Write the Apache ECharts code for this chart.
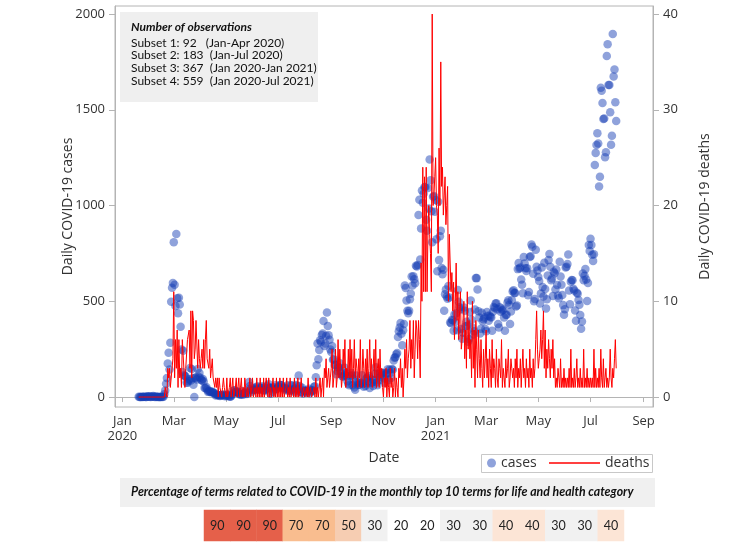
<!DOCTYPE html>
<html>
<head>
<meta charset="utf-8">
<script src="https://cdn.jsdelivr.net/npm/echarts@6/dist/echarts.min.js"></script>
<style>
  html, body { margin: 0; padding: 0; background: #ffffff; }
  #chart { width: 746px; height: 546px; }
</style>
</head>
<body>
<div id="chart"></div>
<script>
// ---------------- DATA ----------------
// Daily COVID-19 cases, 2020 (one sub-array per month; January starts on the 20th)
const cases2020 = [
  [1,0,0,0,1,0,1,1,0,0,3,4],
  [1,3,0,1,3,5,1,0,3,0, 1,0,0,0,0,1,0,1,15,34, 70,100,175,231,144,284,497,571,595],
  [808,586,476,851,516,438,518,483,367,248, 131,242,114,110,107,76,74,84,93,152, 87,147,98,64,0,100,104,91,146,105, 125],
  [101,89,86,94,81,47,47,53,39,27, 30,32,25,27,27,22,22,18,8,13, 9,11,8,6,10,10,10,14,9,4],
  [9,6,13,8,3,2,4,12,18,34, 35,27,26,29,27,19,13,15,13,32, 12,20,23,25,16,19,40,79,58,39, 27],
  [35,38,49,39,39,51,57,38,38,50, 45,56,49,34,37,34,43,59,49,67, 48,17,46,51,28,39,51,62,42,43],
  [51,54,63,63,61,48,44,50,45,35, 44,62,33,39,33,61,60,39,34,26, 45,63,59,41,113,58,25,28,48,18, 36],
  [31,30,23,34,33,43,20,36,28,34, 34,54,56,103,166,279,197,246,297,288, 324,332,397,266,280,320,441,371,323,299, 248],
  [235,267,195,198,168,167,119,136,156,155, 176,136,121,109,106,113,153,126,110,82, 70,61,110,125,114,61,95,50,38,113],
  [77,63,75,64,73,75,114,69,54,72, 58,97,102,84,110,47,73,91,76,58, 89,121,155,77,61,119,88,103,125,114, 127],
  [124,97,75,118,125,145,89,143,126,100, 146,143,191,205,208,223,230,313,343,363, 386,330,271,349,382,583,569,504,450,438],
  [451,511,540,629,583,631,615,594,686,682, 689,950,1030,718,880,1078,1014,1062,1097,1097, 926,869,1092,985,1241,1132,970,808,1046,1050, 967]
];
// Daily COVID-19 cases, 2021 (Jan-Jul)
const cases2021 = [
  [1029,824,657,1020,715,840,869,674,641,665, 451,537,562,524,513,580,520,389,386,404, 401,346,431,392,437,349,559,497,469,458, 355],
  [305,336,467,451,370,393,372,289,303,444, 504,403,362,326,344,457,621,621,561,448, 416,332,357,440,396,406,415,355],
  [344,444,424,398,424,418,416,346,446,470, 465,488,490,459,382,363,469,445,463,452, 456,415,346,428,430,494,505,482,382,447, 506],
  [551,558,543,543,473,478,668,700,671,677, 614,587,542,731,698,673,658,672,532,549, 731,735,797,785,644,500,512,769,680,661],
  [627,606,488,541,676,574,525,701,564,463, 511,635,715,747,681,610,619,528,654,646, 561,666,585,530,516,707,629,587,533,480, 430],
  [459,677,681,695,744,556,485,602,611,610, 565,556,452,399,545,540,507,482,429,357, 394,645,610,634,668,614,501,595,794,762],
  [826,794,743,711,746,1212,1275,1316,1378,1324, 1100,1150,1615,1600,1536,1452,1454,1252,1278,1781, 1842,1630,1629,1487,1318,1365,1896,1674,1710,1539, 1442]
];
// Daily COVID-19 deaths, 2020
const deaths2020 = [
  [0,0,0,0,0,0,0,0,0,0,0,0],
  [0,0,0,0,0,0,0,0,0,0, 0,0,0,0,0,0,0,0,0,1, 1,0,3,2,3,1,1,1,4],
  [11,2,6,3,7,1,6,2,3,1, 6,6,6,1,3,3,6,6,7,3, 9,2,9,8,4,5,8,8,3,6, 4],
  [3,4,5,3,6,3,6,8,4,4, 3,5,2,3,4,2,2,1,2,1, 2,0,2,1,1,0,1,2,1,1],
  [0,2,0,0,1,2,0,0,2,0, 0,1,2,0,1,2,0,1,2,0, 1,0,2,2,0,1,0,1,2,0, 1],
  [2,0,0,1,0,2,0,1,0,2, 0,1,0,2,0,0,2,1,0,2, 0,1,0,0,2,0,1,0,2,0],
  [1,0,2,0,1,0,2,0,0,1, 2,0,1,0,2,0,0,1,0,2, 0,1,0,2,0,0,1,2,0,0, 1],
  [0,0,1,0,2,0,0,1,0,0, 0,1,0,2,0,1,0,0,2,0, 1,2,0,3,2,4,1,2,3,1, 2],
  [3,5,1,2,3,5,1,2,6,2, 5,3,1,2,5,3,6,1,3,2, 5,2,6,2,5,1,3,6,2,4],
  [3,1,4,2,6,1,2,5,3,1, 4,2,5,1,3,6,2,4,1,3, 5,2,6,1,3,4,1,5,2,3, 1],
  [0,2,1,3,0,2,1,0,3,1, 2,0,1,3,0,2,1,0,3,2, 4,1,3,0,2,5,3,6,2,4],
  [5,8,3,6,4,8,2,5,8,7, 4,8,6,2,14,10,24,11,23,11, 24,11,17,20,17,15,11,40,20,21, 23]
];
// Daily COVID-19 deaths, 2021 (Jan-Jul)
const deaths2021 = [
  [25,20,19,15,26,20,35,22,24,19, 21,23,18,20,22,10,17,14,11,13, 9,12,6,10,14,8,11,6,9,11, 5],
  [6,8,10,4,7,3,11,5,8,4, 6,2,10,3,7,1,8,5,2,7, 4,2,6,3,1,5,2,4],
  [7,2,4,1,5,3,1,6,2,4, 3,1,5,2,1,4,3,2,6,1, 3,2,1,4,2,3,5,1,2,4, 3],
  [2,3,1,4,2,5,1,3,2,4, 1,3,5,2,3,1,4,2,3,1, 5,2,3,1,4,2,3,6,9,5],
  [3,4,5,7,4,6,9,3,7,2, 5,3,6,4,2,5,3,6,2,4, 1,2,1,3,2,1,4,1,2,1, 3],
  [1,2,1,2,1,3,1,5,1,2, 1,3,1,2,4,1,2,1,3,1, 2,1,5,1,2,1,3,1,2,1],
  [2,1,2,1,5,1,3,1,2,1, 3,1,5,2,1,4,1,2,3,1, 2,1,2,5,2,1,3,2,4,6, 3]
];
// Monthly % of COVID-19 related terms (Apr 2020 - Jul 2021)
const termMonths = ['Apr 2020','May 2020','Jun 2020','Jul 2020','Aug 2020','Sep 2020','Oct 2020','Nov 2020',
                    'Dec 2020','Jan 2021','Feb 2021','Mar 2021','Apr 2021','May 2021','Jun 2021','Jul 2021'];
const termPct = [90,90,90,70,70,50,30,20,20,30,30,40,40,30,30,40];
// Axis ticks
const caseTicks = [0,500,1000,1500,2000];
const deathTicks = [0,10,20,30,40];
const monthNames = ['Jan','Feb','Mar','Apr','May','Jun','Jul','Aug','Sep','Oct','Nov','Dec'];
const dateTicks = [[2020,0],[2020,2],[2020,4],[2020,6],[2020,8],[2020,10],[2021,0],[2021,2],[2021,4],[2021,6],[2021,8]];
const obsTitle = 'Number of observations';
const obsLines = ['Subset 1: 92   (Jan-Apr 2020)', 'Subset 2: 183  (Jan-Jul 2020)', 'Subset 3: 367  (Jan 2020-Jan 2021)', 'Subset 4: 559  (Jan 2020-Jul 2021)'];
const stripTitle = 'Percentage of terms related to COVID-19 in the monthly top 10 terms for life and health category';

// ---------------- BUILD ----------------
function toPoints(byMonth, year) {
  const pts = [];
  byMonth.forEach((arr, m) => {
    const d0 = (year === 2020 && m === 0) ? 20 : 1;
    arr.forEach((v, i) => pts.push([new Date(year, m, d0 + i).getTime(), v]));
  });
  return pts;
}
const casePts = toPoints(cases2020, 2020).concat(toPoints(cases2021, 2021));
const deathPts = toPoints(deaths2020, 2020).concat(toPoints(deaths2021, 2021));
const dateTickVals = dateTicks.map(t => new Date(t[0], t[1], 1).getTime());

const FONT = 'Open Sans';
const CAL = 'Lato';
const axisGray = '#b4b4b4';

const graphics = [
  { type: 'rect', shape: { x: 120, y: 12, width: 198, height: 90 }, style: { fill: '#efefef' }, z: 5 },
  { type: 'text', x: 131, y: 27, style: { text: obsTitle, fill: '#111', font: 'italic bold 12px ' + CAL, verticalAlign: 'middle' }, z: 6 }
];
obsLines.forEach((t, i) => {
  graphics.push({ type: 'text', x: 131, y: 43 + i * 12.6, style: { text: t, fill: '#111', font: '12px ' + CAL, verticalAlign: 'middle' }, z: 6 });
});
graphics.push({ type: 'rect', shape: { x: 481.5, y: 454.5, width: 171, height: 18 }, style: { fill: 'none', stroke: '#c8c8c8', lineWidth: 1 }, z: 1 });
graphics.push({ type: 'rect', shape: { x: 120, y: 478, width: 535, height: 29 }, style: { fill: '#f0f0f0' }, z: 0 });
graphics.push({ type: 'text', x: 131, y: 492, style: { text: stripTitle, fill: '#111', font: 'italic bold 12.3px ' + CAL, verticalAlign: 'middle' }, z: 2 });

const plainNum = v => String(v);

const option = {
  animation: false,
  backgroundColor: '#ffffff',
  textStyle: { fontFamily: FONT },
  grid: [
    { left: 115, right: 93, top: 6, bottom: 139, show: true, borderColor: axisGray, borderWidth: 1 },
    { left: 204, top: 510, width: 420, height: 31 }
  ],
  xAxis: [
    {
      type: 'value', gridIndex: 0, scale: true,
      min: new Date(2019, 11, 23, 8).getTime(), max: new Date(2021, 8, 12).getTime(),
      axisLine: { show: true, lineStyle: { color: axisGray } },
      axisTick: { show: true, length: 5, lineStyle: { color: axisGray }, customValues: dateTickVals },
      axisLabel: {
        customValues: dateTickVals, color: '#333', fontSize: 13, fontFamily: FONT, margin: 7, lineHeight: 15,
        formatter: function (v) {
          const d = new Date(v);
          const m = monthNames[d.getMonth()];
          return d.getMonth() === 0 ? m + '\n' + d.getFullYear() : m;
        }
      },
      splitLine: { show: false },
      name: 'Date', nameLocation: 'middle', nameGap: 44,
      nameTextStyle: { color: '#333', fontSize: 14, fontFamily: FONT }
    },
    { type: 'category', gridIndex: 1, data: termMonths, show: false }
  ],
  yAxis: [
    {
      type: 'value', gridIndex: 0, min: -52, max: 2042, position: 'left',
      axisLine: { show: true, lineStyle: { color: axisGray } },
      axisTick: { show: true, length: 6, lineStyle: { color: axisGray }, customValues: caseTicks },
      axisLabel: { customValues: caseTicks, formatter: plainNum, color: '#333', fontSize: 13, fontFamily: FONT, margin: 10 },
      splitLine: { show: false },
      name: 'Daily COVID-19 cases', nameLocation: 'middle', nameGap: 40, nameMoveOverlap: false,
      nameTextStyle: { color: '#333', fontSize: 14, fontFamily: FONT }
    },
    {
      type: 'value', gridIndex: 0, min: -1.04, max: 40.84, position: 'right',
      axisLine: { show: true, lineStyle: { color: axisGray } },
      axisTick: { show: true, length: 6, lineStyle: { color: axisGray }, customValues: deathTicks },
      axisLabel: { customValues: deathTicks, formatter: plainNum, color: '#333', fontSize: 13, fontFamily: FONT, margin: 10 },
      splitLine: { show: false },
      name: 'Daily COVID-19 deaths', nameLocation: 'middle', nameGap: 45,
      nameTextStyle: { color: '#333', fontSize: 14, fontFamily: FONT }
    },
    { type: 'category', gridIndex: 1, data: [''], show: false }
  ],
  legend: [
    {
      data: ['cases'], left: 487, top: 456, itemWidth: 9, itemHeight: 9, icon: 'circle',
      textStyle: { fontSize: 14, color: '#333', fontFamily: FONT }, padding: 0
    },
    {
      data: [{ name: 'deaths', icon: 'rect' }], left: 549, top: 456, itemWidth: 51, itemHeight: 1.5,
      textStyle: { fontSize: 14, color: '#333', fontFamily: FONT }, padding: 0
    }
  ],
  visualMap: {
    type: 'piecewise', show: false, seriesIndex: 2, dimension: 2,
    pieces: [
      { value: 90, color: '#e5604a' },
      { value: 70, color: '#f9bd8f' },
      { value: 50, color: '#f6cdb2' },
      { value: 40, color: '#fce5d6' },
      { value: 30, color: '#f1f1f1' },
      { value: 20, color: '#ffffff' }
    ]
  },
  series: [
    {
      name: 'cases', type: 'scatter', xAxisIndex: 0, yAxisIndex: 0,
      data: casePts, symbol: 'circle', symbolSize: 8.5,
      itemStyle: { color: 'rgba(20,60,180,0.6)' }, z: 2
    },
    {
      name: 'deaths', type: 'line', xAxisIndex: 0, yAxisIndex: 1,
      data: deathPts, symbol: 'none', showSymbol: false,
      lineStyle: { color: '#ff0000', width: 1 }, itemStyle: { color: '#ff0000' }, z: 3
    },
    {
      name: 'terms', type: 'heatmap', xAxisIndex: 1, yAxisIndex: 2,
      data: termPct.map((v, i) => [i, 0, v]),
      label: { show: true, fontSize: 12.5, color: '#222', fontFamily: CAL },
      itemStyle: { borderWidth: 0 }
    }
  ],
  graphic: graphics
};

const chart = echarts.init(document.getElementById('chart'), null, { renderer: 'canvas' });
chart.setOption(option);
</script>
</body>
</html>
